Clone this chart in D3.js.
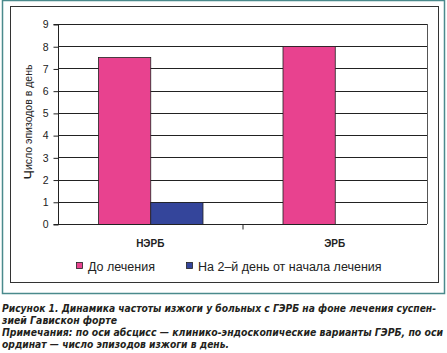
<!DOCTYPE html>
<html>
<head>
<meta charset="utf-8">
<script src="https://cdn.jsdelivr.net/npm/d3@7"></script>
<style>
  body { margin: 0; background: #fff; }
  svg { display: block; font-family: 'Liberation Sans', Arial, sans-serif; }
  .tick text { font-size: 10.5px; fill: #222; }
  .cat-label { font-size: 10px; font-weight: bold; fill: #222; }
  .legend-label { font-size: 12.5px; fill: #222; }
  .caption { font-family: 'Liberation Sans Narrow', 'DejaVu Sans Condensed', sans-serif; font-size: 10.5px; font-weight: bold; font-style: italic; fill: #231f20; }
</style>
</head>
<body>
<svg id="chart" width="447" height="353"></svg>
<script>
// Chart values
const categories = ['НЭРБ', 'ЭРБ'];
const seriesNames = ['До лечения', 'На 2\u2013й день от начала лечения'];
const beforeValues = [7.5, 8];
const day2Values = [1, 0];
const yTicks = [0, 1, 2, 3, 4, 5, 6, 7, 8, 9];
const captionLines = [
  'Рисунок 1. Динамика частоты изжоги у больных с ГЭРБ на фоне лечения суспен-',
  'зией Гавискон форте',
  'Примечания: по оси абсцисс — клинико-эндоскопические варианты ГЭРБ, по оси',
  'ординат — число эпизодов изжоги в день.'
];

const colors = ['#e8428f', '#34459b'];

const svg = d3.select('#chart');

// Outer teal frame and inner chart box
svg.append('rect')
  .attr('x', 2.5).attr('y', 0.5)
  .attr('width', 442).attr('height', 293)
  .attr('fill', 'none').attr('stroke', '#4a8a8c').attr('stroke-width', 1.5);
svg.append('rect')
  .attr('x', 10.5).attr('y', 6.5)
  .attr('width', 428).attr('height', 276)
  .attr('fill', '#fff').attr('stroke', '#333').attr('stroke-width', 1);

const plot = { left: 58, right: 427, top: 24, bottom: 224 };

const xScale = d3.scaleBand()
  .domain(categories)
  .range([plot.left, plot.right]);

const xSubScale = d3.scaleBand()
  .domain(seriesNames)
  .range([40, xScale.bandwidth() - 40]);

const yScale = d3.scaleLinear()
  .domain([0, 9])
  .range([plot.bottom, plot.top]);

// Gridlines
svg.append('g')
  .selectAll('line')
  .data(yTicks.filter((d) => d > 0))
  .enter()
  .append('line')
  .attr('x1', plot.left).attr('x2', plot.right)
  .attr('y1', (d) => Math.round(yScale(d)) + 0.5)
  .attr('y2', (d) => Math.round(yScale(d)) + 0.5)
  .attr('stroke', '#222').attr('stroke-width', 1);

// Right border of plot area
svg.append('line')
  .attr('x1', plot.right + 0.5).attr('x2', plot.right + 0.5)
  .attr('y1', plot.top).attr('y2', plot.bottom)
  .attr('stroke', '#555').attr('stroke-width', 1);

// Bars
const rows = categories.map((c, i) => ({ cat: c, values: [beforeValues[i], day2Values[i]] }));
const groups = svg.append('g')
  .selectAll('g')
  .data(rows)
  .enter()
  .append('g')
  .attr('transform', (d) => 'translate(' + xScale(d.cat) + ',0)');

groups.selectAll('rect')
  .data((d) => d.values.map((v, j) => ({ name: seriesNames[j], value: v, j: j })))
  .enter()
  .filter((d) => d.value > 0)
  .append('rect')
  .attr('x', (d) => xSubScale(d.name) + 0.5)
  .attr('y', (d) => Math.round(yScale(d.value)) + 0.5)
  .attr('width', xSubScale.bandwidth())
  .attr('height', (d) => plot.bottom - Math.round(yScale(d.value)))
  .attr('fill', (d) => colors[d.j])
  .attr('stroke', '#222').attr('stroke-width', 0.8);

// Y axis
const yAxis = svg.append('g')
  .attr('transform', 'translate(' + (plot.left + 0.5) + ',0.5)')
  .call(d3.axisLeft(yScale).tickValues(yTicks).tickSize(5).tickPadding(5).tickFormat(d3.format('d')));
yAxis.selectAll('line, path').attr('stroke', '#222');
yAxis.select('.domain').attr('d', 'M-5,' + plot.top + 'H0V' + plot.bottom + 'H-5');

// X axis
const xAxis = svg.append('g')
  .attr('transform', 'translate(0,' + (plot.bottom + 0.5) + ')');
xAxis.append('line')
  .attr('x1', plot.left).attr('x2', plot.right)
  .attr('stroke', '#222');
xAxis.selectAll('.sep')
  .data(categories.slice(1))
  .enter()
  .append('line')
  .attr('class', 'sep')
  .attr('x1', (d) => xScale(d) + 0.5).attr('x2', (d) => xScale(d) + 0.5)
  .attr('y1', 0).attr('y2', 5)
  .attr('stroke', '#222');
xAxis.selectAll('.cat-label')
  .data(categories)
  .enter()
  .append('text')
  .attr('class', 'cat-label')
  .attr('x', (d) => xScale(d) + xScale.bandwidth() / 2)
  .attr('y', 22)
  .attr('text-anchor', 'middle')
  .text((d) => d);

// Y label
const yLabel = svg.append('text')
  .attr('transform', 'translate(32,' + 122 + ') rotate(-90)')
  .attr('text-anchor', 'middle')
  .attr('font-size', 10.5)
  .attr('fill', '#222');
yLabel.append('tspan').attr('font-size', 14).attr('dy', 2).text('Ч');
yLabel.append('tspan').attr('dy', -2).text('исло эпизодов в день');

// Legend
const legendX = [76, 186];
const legend = svg.append('g')
  .selectAll('g')
  .data(seriesNames)
  .enter()
  .append('g')
  .attr('transform', (d, i) => 'translate(' + legendX[i] + ',262)');
legend.append('rect')
  .attr('x', 0.5).attr('y', 0.5)
  .attr('width', 6).attr('height', 6)
  .attr('fill', (d, i) => colors[i])
  .attr('stroke', '#222').attr('stroke-width', 0.8);
legend.append('text')
  .attr('class', 'legend-label')
  .attr('x', 12)
  .attr('y', 9)
  .text((d) => d);

// Caption
const captionWidths = [434, 115, 441, 227];
const captionY = [312, 324, 336, 348];
svg.append('g')
  .selectAll('text')
  .data(captionLines)
  .enter()
  .append('text')
  .attr('class', 'caption')
  .attr('x', 2)
  .attr('y', (d, i) => captionY[i])
  .attr('textLength', (d, i) => captionWidths[i])
  .attr('lengthAdjust', 'spacingAndGlyphs')
  .text((d) => d);
</script>
</body>
</html>
